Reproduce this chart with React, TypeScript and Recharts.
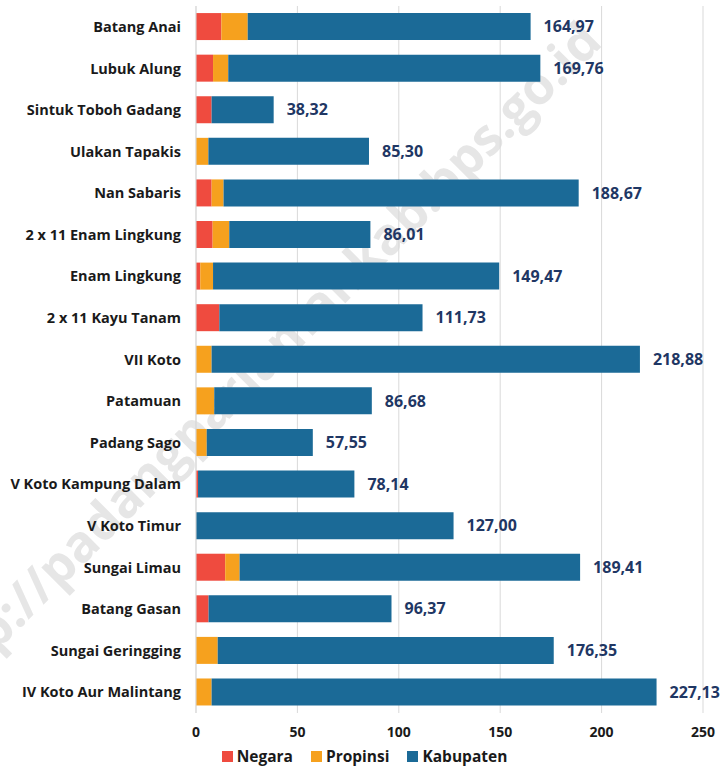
import {
  BarChart,
  Bar,
  XAxis,
  YAxis,
  CartesianGrid,
  Legend,
  LabelList,
} from 'recharts'

// Kecamatan, top to bottom as they appear in the chart
const kecamatan = [
  'Batang Anai',
  'Lubuk Alung',
  'Sintuk Toboh Gadang',
  'Ulakan Tapakis',
  'Nan Sabaris',
  '2 x 11 Enam Lingkung',
  'Enam Lingkung',
  '2 x 11 Kayu Tanam',
  'VII Koto',
  'Patamuan',
  'Padang Sago',
  'V Koto Kampung Dalam',
  'V Koto Timur',
  'Sungai Limau',
  'Batang  Gasan',
  'Sungai Geringging',
  'IV Koto Aur Malintang',
]

// road length (km) by authority
const negara = [12.5, 8.4, 7.7, 0, 7.7, 8.2, 2.1, 11.5, 0, 0, 0, 1.0, 0, 14.4, 6.2, 0, 0]
const propinsi = [13.0, 7.5, 0, 6.1, 5.9, 8.2, 6.3, 0, 7.7, 9.0, 5.3, 0, 0, 7.1, 0, 10.7, 7.7]
const kabupaten = [
  139.5, 153.9, 30.6, 79.2, 175.1, 69.6, 141.1, 100.2, 211.2, 77.7, 52.3, 77.1, 127.0,
  167.9, 90.2, 165.7, 219.4,
]
// printed totals at the end of each bar
const totalLabels = [
  '164,97', '169,76', '38,32', '85,30', '188,67', '86,01', '149,47', '111,73', '218,88',
  '86,68', '57,55', '78,14', '127,00', '189,41', '96,37', '176,35', '227,13',
]

const xTicks = [0, 50, 100, 150, 200, 250]

const COLORS = {
  negara: '#ef4b3f',
  propinsi: '#f6a11e',
  kabupaten: '#1b6a97',
}

const FONT = '"Open Sans", sans-serif'

const data = kecamatan.map((name, i) => ({
  name,
  negara: negara[i],
  propinsi: propinsi[i],
  kabupaten: kabupaten[i],
  total: totalLabels[i],
}))

const legendItems = [
  { label: 'Negara', color: COLORS.negara },
  { label: 'Propinsi', color: COLORS.propinsi },
  { label: 'Kabupaten', color: COLORS.kabupaten },
]

function LegendRow() {
  return (
    <div
      style={{
        display: 'flex',
        justifyContent: 'center',
        gap: 18,
        paddingLeft: 26,
        fontFamily: FONT,
        fontWeight: 700,
        fontSize: 15.5,
        color: '#1a1a1a',
        height: 26,
        alignItems: 'center',
      }}
    >
      {legendItems.map((item) => (
        <span key={item.label} style={{ display: 'flex', alignItems: 'center', gap: 4 }}>
          <span style={{ width: 11, height: 11, background: item.color, display: 'inline-block' }} />
          {item.label}
        </span>
      ))}
    </div>
  )
}

export default function App() {
  return (
    <div
      style={{
        position: 'absolute',
        left: 0,
        top: 0,
        width: 721,
        height: 773,
        background: '#fff',
        overflow: 'hidden',
      }}
    >
      {/* faint watermark behind the bars */}
      <div
        style={{
          position: 'absolute',
          left: 258,
          top: 362,
          transform: 'translate(-50%, -50%) rotate(-45deg)',
          fontFamily: FONT,
          fontWeight: 700,
          fontSize: 51,
          color: '#e6e6e6',
          whiteSpace: 'nowrap',
        }}
      >
        http://padangpariamankab.bps.go.id
      </div>
      <div style={{ position: 'absolute', left: 0, top: 0 }}>
        <BarChart
          width={721}
          height={773}
          data={data}
          layout="vertical"
          margin={{ top: 6, right: 18, left: 0, bottom: 4 }}
          barCategoryGap="17%"
        >
          <CartesianGrid horizontal={false} stroke="#d9d9d9" />
          <XAxis
            type="number"
            domain={[0, 250]}
            ticks={xTicks}
            axisLine={false}
            tickLine={false}
            tickMargin={8}
            height={30}
            tick={{ fontFamily: FONT, fontWeight: 700, fontSize: 14, fill: '#1a1a1a' }}
          />
          <YAxis
            type="category"
            dataKey="name"
            width={196}
            axisLine={{ stroke: '#d9d9d9' }}
            tickLine={false}
            tickSize={0}
            tickMargin={15}
            interval={0}
            tick={{ fontFamily: FONT, fontWeight: 700, fontSize: 14.5, fill: '#1a1a1a' }}
          />
          <Legend verticalAlign="bottom" content={() => <LegendRow />} />
          <Bar dataKey="negara" name="Negara" stackId="a" fill={COLORS.negara} isAnimationActive={false} />
          <Bar dataKey="propinsi" name="Propinsi" stackId="a" fill={COLORS.propinsi} isAnimationActive={false} />
          <Bar dataKey="kabupaten" name="Kabupaten" stackId="a" fill={COLORS.kabupaten} isAnimationActive={false}>
            <LabelList
              dataKey="total"
              position="right"
              offset={13}
              style={{ fontFamily: FONT, fontWeight: 700, fontSize: 16, fill: '#1f3764' }}
            />
          </Bar>
        </BarChart>
      </div>
    </div>
  )
}
